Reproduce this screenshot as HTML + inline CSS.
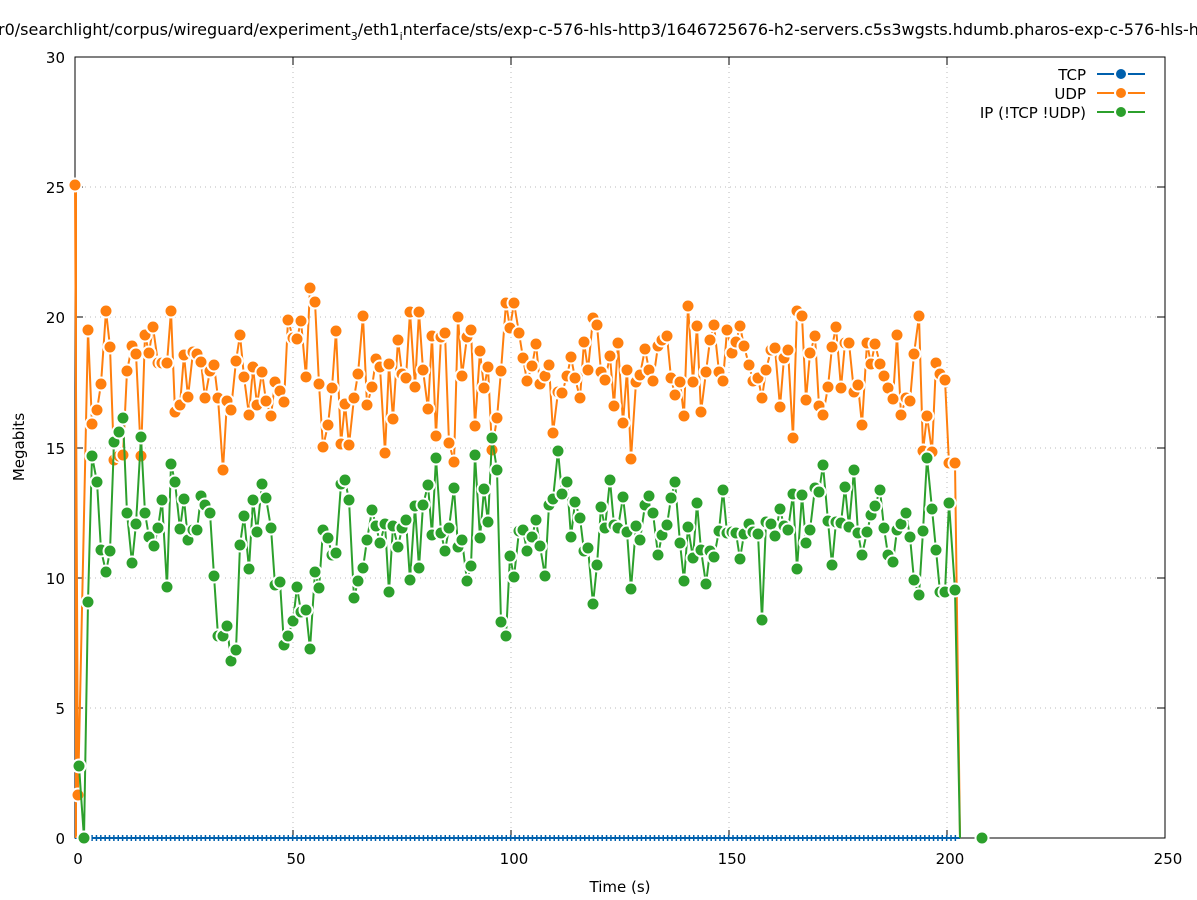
<!DOCTYPE html>
<html><head><meta charset="utf-8"><style>html,body{margin:0;padding:0;background:#fff;overflow:hidden}svg{display:block}</style></head>
<body>
<svg width="1197" height="900" viewBox="0 0 1197 900" xmlns="http://www.w3.org/2000/svg" font-family="DejaVu Sans, Liberation Sans, sans-serif" font-size="15">
<rect width="1197" height="900" fill="#fff"/>
<text x="-2" y="35" fill="#000" font-size="16">r0/searchlight/corpus/wireguard/experiment<tspan font-size="11" dy="5">3</tspan><tspan dy="-5">/eth1</tspan><tspan font-size="11" dy="5">i</tspan><tspan dy="-5">nterface/sts/exp-c-576-hls-http3/1646725676-h2-servers.c5s3wgsts.hdumb.pharos-exp-c-576-hls-h</tspan></text>
<g stroke="#bbb" stroke-width="1" stroke-dasharray="1,4">
<line x1="75" y1="708" x2="1165" y2="708"/><line x1="75" y1="578" x2="1165" y2="578"/><line x1="75" y1="448" x2="1165" y2="448"/><line x1="75" y1="317" x2="1165" y2="317"/><line x1="75" y1="187" x2="1165" y2="187"/>
<line x1="293" y1="57" x2="293" y2="838"/><line x1="511" y1="57" x2="511" y2="838"/><line x1="729" y1="57" x2="729" y2="838"/><line x1="947" y1="57" x2="947" y2="838"/>
</g>
<g stroke="#000" stroke-width="1">
<rect x="75" y="57" width="1090" height="781" fill="none"/>
<path d="M75 838h8M75 708h8M75 578h8M75 448h8M75 317h8M75 187h8M75 57h8M1165 838h-8M1165 708h-8M1165 578h-8M1165 448h-8M1165 317h-8M1165 187h-8M1165 57h-8M75 838v-8M293 838v-8M511 838v-8M729 838v-8M947 838v-8M1165 838v-8M75 57v8M293 57v8M511 57v8M729 57v8M947 57v8"/>
</g>
<g text-anchor="end" fill="#000">
<text x="65" y="844">0</text><text x="65" y="714">5</text><text x="65" y="584">10</text><text x="65" y="454">15</text><text x="65" y="323">20</text><text x="65" y="193">25</text><text x="65" y="63">30</text>
</g>
<g text-anchor="middle" fill="#000">
<text x="78" y="864">0</text><text x="296" y="864">50</text><text x="514" y="864">100</text><text x="732" y="864">150</text><text x="950" y="864">200</text><text x="1168" y="864">250</text>
<text x="620" y="892">Time (s)</text>
<text transform="translate(24,447) rotate(-90)">Megabits</text>
</g>
<defs>
<symbol id="o" overflow="visible"><circle r="6.5" fill="#ff7f0e" stroke="#fff" stroke-width="2"/></symbol>
<symbol id="g" overflow="visible"><circle r="6.5" fill="#2ca02c" stroke="#fff" stroke-width="2"/></symbol>
</defs>
<line x1="75" y1="838" x2="960" y2="838" stroke="#0060ad" stroke-width="2"/>
<g id="tcp"></g>
<g id="plots"></g>
<g text-anchor="end" fill="#000">
<text x="1086" y="80">TCP</text><text x="1086" y="99">UDP</text><text x="1086" y="118">IP (!TCP  !UDP)</text>
</g>
<line x1="1097" y1="74" x2="1145" y2="74" stroke="#0060ad" stroke-width="2"/><circle cx="1121" cy="74" r="6" fill="#0060ad" stroke="#fff" stroke-width="2"/>
<line x1="1097" y1="93" x2="1145" y2="93" stroke="#ff7f0e" stroke-width="2"/><circle cx="1121" cy="93" r="6" fill="#ff7f0e" stroke="#fff" stroke-width="2"/>
<line x1="1097" y1="112" x2="1145" y2="112" stroke="#2ca02c" stroke-width="2"/><circle cx="1121" cy="112" r="6" fill="#2ca02c" stroke="#fff" stroke-width="2"/>
</svg>
<script>
var O=[75,185,78,795,88,330,92,424,97,410,101,384,106,311,110,347,114,460,119,456,123,455,127,371,132,346,136,354,141,456,145,335,149,353,153,327,158,363,162,363,167,363,171,311,175,412,180,405,184,355,188,397,193,352,197,354,201,362,205,398,210,371,214,365,218,398,223,470,227,401,231,410,236,361,240,335,244,377,249,415,253,367,257,405,262,372,266,401,271,416,275,382,280,391,284,402,288,320,293,338,297,339,301,321,306,377,310,288,315,302,319,384,323,447,328,425,332,388,336,331,341,444,345,404,349,445,354,398,358,374,363,316,367,405,372,387,376,359,380,367,385,453,389,364,393,419,398,340,402,374,406,378,410,312,415,387,419,312,423,370,428,409,432,336,436,436,441,337,445,333,449,443,454,462,458,317,462,376,467,337,471,330,475,426,480,351,484,388,488,367,492,450,497,418,501,371,506,303,510,328,514,303,519,333,523,358,527,381,532,366,536,344,540,384,545,376,549,365,553,433,558,392,562,393,567,376,571,357,575,378,580,398,584,342,588,370,593,318,597,325,601,372,605,380,610,356,614,406,618,343,623,423,627,370,631,459,636,382,640,375,645,349,649,370,653,381,658,346,662,340,667,336,671,378,675,395,680,382,684,416,688,306,693,382,697,326,701,412,706,372,710,340,714,325,719,372,723,381,727,330,732,353,736,342,740,326,744,346,749,365,753,381,758,378,762,398,766,370,771,350,775,348,780,407,784,358,788,350,793,438,797,311,802,316,806,400,810,353,815,336,819,406,823,415,828,387,832,347,836,327,841,388,845,343,849,343,854,392,858,385,862,425,867,343,871,364,875,344,880,364,884,376,888,388,893,399,897,335,901,415,906,398,910,401,914,354,919,316,923,451,927,416,932,452,936,363,940,374,945,380,949,463,955,463];
var G=[79,766,84,838,88,602,92,456,97,482,101,550,106,572,110,551,114,442,119,432,123,418,127,513,132,563,136,524,141,437,145,513,149,537,154,546,158,528,162,500,167,587,171,464,175,482,180,529,184,499,188,540,193,530,197,530,201,496,205,505,210,513,214,576,218,636,223,636,227,626,231,661,236,650,240,545,244,516,249,569,253,500,257,532,262,484,266,498,271,528,275,585,280,582,284,645,288,636,293,621,297,587,301,612,306,610,310,649,315,572,319,588,323,530,328,538,332,555,336,553,341,484,345,480,349,500,354,598,358,581,363,568,367,540,372,510,376,526,380,543,385,524,389,592,393,526,398,547,402,528,406,520,410,580,415,506,419,568,423,505,428,485,432,535,436,458,441,533,445,551,449,528,454,488,458,547,462,540,467,581,471,566,475,455,480,538,484,489,488,522,492,438,497,470,501,622,506,636,510,556,514,577,519,531,523,530,527,551,532,537,536,520,540,546,545,576,549,505,553,499,558,451,562,494,567,482,571,537,575,502,580,518,584,551,588,548,593,604,597,565,601,507,605,528,610,480,614,525,618,528,623,497,627,532,631,589,636,526,640,540,645,505,649,496,653,513,658,555,662,535,667,525,671,498,675,482,680,543,684,581,688,527,693,558,697,503,701,550,706,584,710,551,714,557,719,531,723,490,727,533,732,532,736,533,740,559,744,534,749,524,753,532,758,534,762,620,766,522,771,524,775,536,780,509,784,526,788,530,793,494,797,569,802,495,806,543,810,530,815,488,819,492,823,465,828,521,832,565,836,522,841,523,845,487,849,527,854,470,858,533,862,555,867,532,871,515,875,506,880,490,884,528,888,555,893,562,897,530,901,524,906,513,910,537,914,580,919,595,923,531,927,458,932,509,936,550,940,592,945,592,949,503,955,590];
function mk(a,col,id,tailx){var pts=[],s='';for(var i=0;i<a.length;i+=2){pts.push(a[i]+','+a[i+1]);s+='<use href="#'+id+'" x="'+a[i]+'" y="'+a[i+1]+'"/>';}
pts.push(tailx+',838');
return '<polyline fill="none" stroke="'+col+'" stroke-width="2" points="'+pts.join(' ')+'"/>'+s;}
var t='';for(var x=79;x<=958;x+=4.36){t+='<line x1="'+x+'" y1="835" x2="'+x+'" y2="841" stroke="#0060ad" stroke-width="1.5"/>';}
document.getElementById('tcp').innerHTML=t;
var h='<line x1="76" y1="185" x2="76" y2="838" stroke="#ff7f0e" stroke-width="2"/>'+mk(O,'#ff7f0e','o',960)+mk(G,'#2ca02c','g',960)+'<use href="#g" x="982" y="838"/>';
document.getElementById('plots').innerHTML=h;
</script>
</body></html>
